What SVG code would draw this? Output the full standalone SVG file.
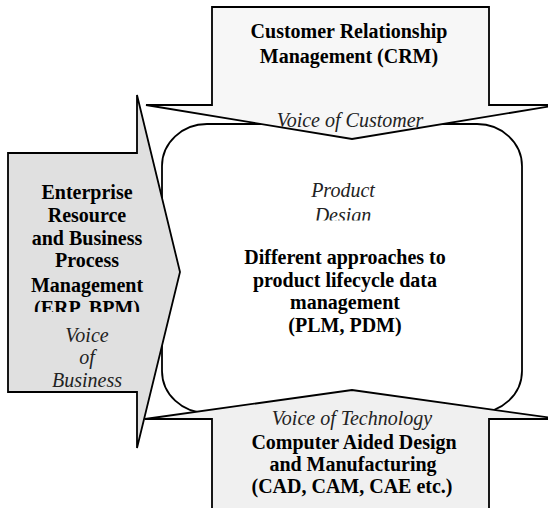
<svg xmlns="http://www.w3.org/2000/svg" width="548" height="508" viewBox="0 0 548 508">
<style>
.shape{stroke:#000;stroke-width:1.8;stroke-linejoin:miter}
.b{font-family:"Liberation Serif","Times New Roman",serif;font-weight:bold;font-size:20px;fill:#000;text-anchor:middle}
.i{font-family:"Liberation Serif","Times New Roman",serif;font-style:italic;font-size:20px;fill:#222;text-anchor:middle}
</style>
<defs>
<clipPath id="clipERP"><rect x="0" y="140" width="180" height="172"/></clipPath>
<clipPath id="clipPD"><rect x="170" y="170" width="340" height="50.5"/></clipPath>
</defs>
<rect width="548" height="508" fill="#fff"/>
<g id="product">
<rect class="shape" x="162" y="124" width="360" height="289" rx="45" ry="42" fill="#fff"/>
<g clip-path="url(#clipPD)">
<text class="i" x="343" y="197">Product</text>
<text class="i" x="343" y="222">Design</text>
</g>
<text class="b" x="345" y="264">Different approaches to</text>
<text class="b" x="345" y="286.5">product lifecycle data</text>
<text class="b" x="345" y="309">management</text>
<text class="b" x="345" y="331.5">(PLM, PDM)</text>
</g>
<g id="crm">
<polygon class="shape" fill="#f7f7f7" points="212,7 489,7 489,105 558,105 352,139 146,105 212,105"/>
<text class="b" x="349" y="37.5">Customer Relationship</text>
<text class="b" x="349" y="63">Management (CRM)</text>
<text class="i" x="350" y="127">Voice of Customer</text>
</g>
<g id="erp">
<polygon class="shape" fill="#e0e0e0" points="8,153 137,153 137,95 180,272 137,448 137,392 8,392"/>
<g clip-path="url(#clipERP)">
<text class="b" x="87" y="199">Enterprise</text>
<text class="b" x="87" y="221.5">Resource</text>
<text class="b" x="87" y="244.5">and Business</text>
<text class="b" x="87" y="267">Process</text>
<text class="b" x="87" y="292">Management</text>
<text class="b" x="87" y="314.5">(ERP, BPM)</text>
</g>
<text class="i" x="87" y="341.5">Voice</text>
<text class="i" x="87" y="364">of</text>
<text class="i" x="87" y="386.5">Business</text>
</g>
<g id="cad">
<polygon class="shape" fill="#f0f0f0" points="212,530 212,419 145,419 352,390 559,419 489,419 489,530"/>
<text class="i" x="352" y="425">Voice of Technology</text>
<text class="b" x="354" y="449">Computer Aided Design</text>
<text class="b" x="353" y="470.5">and Manufacturing</text>
<text class="b" x="352" y="492.5">(CAD, CAM, CAE etc.)</text>
</g>
<g id="connectors"/>
</svg>
